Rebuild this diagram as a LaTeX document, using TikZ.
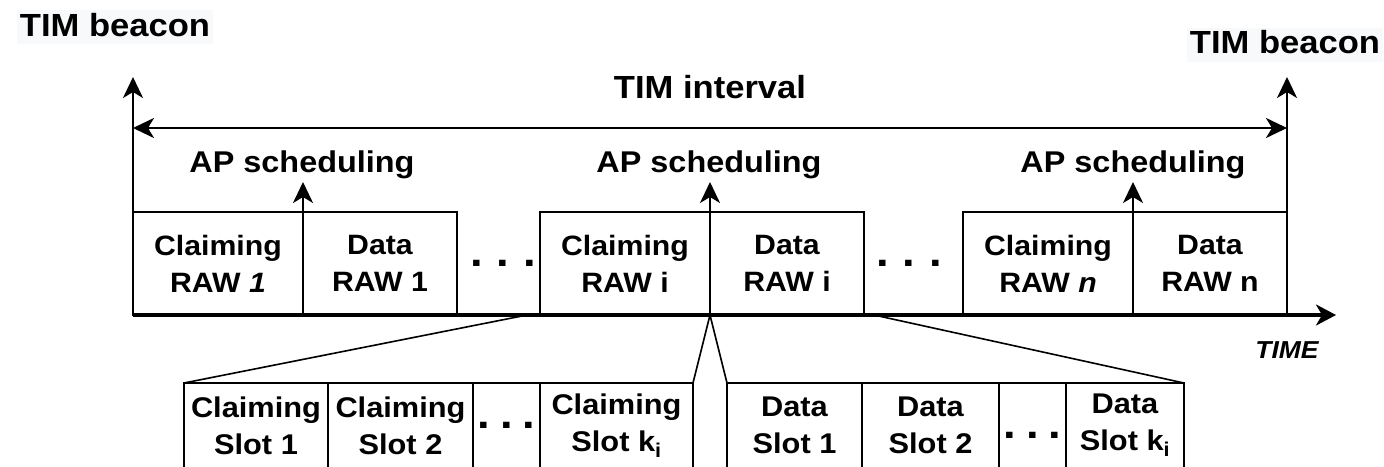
\documentclass[tikz,border=0pt]{standalone}
\usepackage{fontspec}
\setmainfont{Liberation Sans}[FakeStretch=1.08]
\usetikzlibrary{arrows.meta,positioning}
\definecolor{beaconbg}{HTML}{F8F9FA}
\tikzset{
    rawbox/.style={draw,line width=2.6pt,outer sep=0pt,minimum height=103pt,
                   align=center,font=\fontsize{28}{37}\selectfont\bfseries},
    slotbox/.style={draw,line width=2.6pt,outer sep=0pt,minimum height=85pt,
                    inner sep=1pt,align=center,font=\fontsize{28.5}{37}\selectfont\bfseries},
    dots/.style={inner sep=0pt,font=\fontsize{42}{42}\selectfont\bfseries},
    beam/.style={line width=2.4pt},
    fan/.style={line width=1.6pt},
    beacon/.style={fill=beaconbg,inner xsep=3pt,inner ysep=0pt,text height=23pt,
                   text depth=5pt,minimum height=34pt,font=\fontsize{32}{38}\selectfont\bfseries},
    aplabel/.style={anchor=base,inner sep=0pt,font=\fontsize{30}{36}\selectfont\bfseries}
}
\begin{document}
\begin{tikzpicture}[x=1pt,y=-1pt,font=\bfseries,>={Stealth[length=21pt,width=20pt,inset=6pt]}]
    \useasboundingbox (0,0) rectangle (1384,466);
    % RAW 1, RAW i, RAW n
    \node [rawbox,minimum width=170pt,anchor=west] (c1) at (133,263.5) {Claiming\\RAW \textit{1}};
    \node [rawbox,minimum width=154pt,right=0pt of c1] (d1) {Data\\RAW 1};
    \node [rawbox,minimum width=170pt,anchor=west] (ci) at (540,263.5) {Claiming\\RAW i};
    \node [rawbox,minimum width=154pt,right=0pt of ci] (di) {Data\\RAW i};
    \node [rawbox,minimum width=170pt,anchor=west] (cn) at (963,263.5) {Claiming\\RAW \textit{n}};
    \node [rawbox,minimum width=154pt,right=0pt of cn] (dn) {Data\\RAW n};
    \node [dots] (dotsA) at (503,263) {.\hspace{14pt}.\hspace{14pt}.};
    \node [dots] (dotsB) at (909,263) {.\hspace{14pt}.\hspace{14pt}.};
    % slot della RAW i
    \node [slotbox,minimum width=144pt,anchor=west] (cs1) at (184,425.5) {Claiming\\Slot 1};
    \node [slotbox,minimum width=145pt,right=0pt of cs1] (cs2) {Claiming\\Slot 2};
    \node [slotbox,minimum width=67pt,right=0pt of cs2] (csd) {};
    \node [slotbox,minimum width=153pt,right=0pt of csd] (csk) {Claiming\\Slot k\textsubscript{i}};
    \node [slotbox,minimum width=135pt,anchor=west] (ds1) at (727,425.5) {Data\\Slot 1};
    \node [slotbox,minimum width=137pt,right=0pt of ds1] (ds2) {Data\\Slot 2};
    \node [slotbox,minimum width=67pt,right=0pt of ds2] (dsd) {};
    \node [slotbox,minimum width=118pt,right=0pt of dsd] (dsk) {Data\\Slot k\textsubscript{i}};
    \node [dots] (dotsC) at (csd.center) {.\hspace{10pt}.\hspace{10pt}.};
    \node [dots] (dotsD) at ([yshift=-10pt]dsd.center) {.\hspace{10pt}.\hspace{10pt}.};
    % asse dei tempi
    \coordinate (tEnd) at (1336,315);
    \draw [line width=3.2pt,->,>={Stealth[length=20pt,width=21pt,inset=6pt]}] (c1.south west) -- (tEnd);
    \node [anchor=base,inner sep=0pt,font=\fontsize{24.5}{30}\selectfont\bfseries\itshape] (time) at (1287,358) {TIME};
    % TIM beacon e TIM interval
    \coordinate (bL) at (133,77);
    \coordinate (bR) at (1287,77);
    \draw [beam,->] (c1.south west) -- (bL);
    \draw [beam,->] (dn.south east) -- (bR);
    \coordinate (iL) at (133,128);
    \coordinate (iR) at (1287,128);
    \draw [beam,<->] (iL) -- (iR);
    \node [anchor=base,inner sep=0pt,font=\fontsize{32}{38}\selectfont\bfseries] (tint) at (710,98) {TIM interval};
    \node [beacon] (tbL) at (115,27) {TIM beacon};
    \node [beacon] (tbR) at (1285,44.5) {TIM beacon};
    % AP scheduling
    \coordinate (apL) at (303,182);
    \coordinate (apM) at (710,182);
    \coordinate (apR) at (1133,182);
    \draw [beam,->] (c1.south east) -- (apL);
    \draw [beam,->] (di.south west) -- (apM);
    \draw [beam,->] (cn.south east) -- (apR);
    \node [aplabel] (apsL) at (302,172) {AP scheduling};
    \node [aplabel] (apsM) at (709,172) {AP scheduling};
    \node [aplabel] (apsR) at (1133,172) {AP scheduling};
    % ingrandimento della RAW i
    \coordinate (fanL) at (527,315);
    \coordinate (fanR) at (874,315);
    \draw [fan] (fanL) -- (cs1.north west);
    \draw [fan] (di.south west) -- (csk.north east);
    \draw [fan] (di.south west) -- (ds1.north west);
    \draw [fan] (fanR) -- (dsk.north east);
\end{tikzpicture}
\end{document}
